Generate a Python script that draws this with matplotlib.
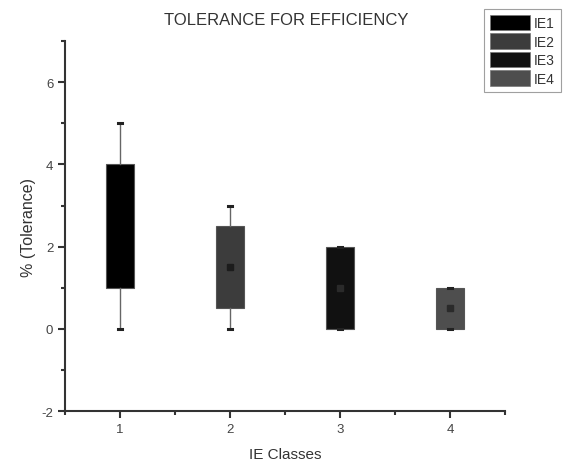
import matplotlib
matplotlib.use("Agg")
import matplotlib.pyplot as plt
from matplotlib.patches import Patch
from matplotlib.ticker import MultipleLocator

plt.rcParams['font.family'] = ['Liberation Sans', 'DejaVu Sans']
plt.rcParams['axes.unicode_minus'] = False

# data
classes = [1, 2, 3, 4]
labels = ['IE1', 'IE2', 'IE3', 'IE4']
wlo = [0, 0, 0, 0]
q1 = [1, 0.5, 0, 0]
med = [2.5, 1.5, 1, 0.5]
q3 = [4, 2.5, 2, 1]
whi = [5, 3, 2, 1]
means = [2.5, 1.5, 1, 0.5]
colors = ['#000000', '#3c3c3c', '#111111', '#4e4e4e']
mean_colors = ['#000000', '#1c1c1c', '#2a2a2a', '#2a2a2a']

fig = plt.figure(figsize=(5.66, 4.64), dpi=100)
ax = fig.add_axes([0.115, 0.112, 0.777, 0.797])

stats = []
for i in range(len(classes)):
    stats.append(dict(whislo=wlo[i], q1=q1[i], med=med[i], q3=q3[i],
                      whishi=whi[i], fliers=[], label=labels[i]))

bp = ax.bxp(stats, positions=classes, widths=0.25, patch_artist=True,
            showfliers=False, capwidths=0.035,
            boxprops=dict(linewidth=0.8, edgecolor='#555555'),
            whiskerprops=dict(linewidth=1.0, color='#666666'),
            capprops=dict(linewidth=2.2, color='#222222'),
            medianprops=dict(linewidth=0))
for patch, c in zip(bp['boxes'], colors):
    patch.set_facecolor(c)

for x, m, mc in zip(classes, means, mean_colors):
    ax.plot(x, m, marker='s', markersize=4, color=mc, linestyle='none')

ax.set_xlim(0.5, 4.5)
ax.set_ylim(-2, 7)
ax.set_xticks(classes)
ax.set_xticklabels([str(c) for c in classes])
ax.set_yticks([-2, 0, 2, 4, 6])
ax.xaxis.set_minor_locator(MultipleLocator(0.5))
ax.yaxis.set_minor_locator(MultipleLocator(1))

for side in ['top', 'right']:
    ax.spines[side].set_visible(False)
for side in ['left', 'bottom']:
    ax.spines[side].set_linewidth(1.5)
    ax.spines[side].set_color('#333333')

ax.tick_params(which='major', direction='out', length=5, width=1.5,
               color='#333333', labelsize=9.5, labelcolor='#444444')
ax.tick_params(which='minor', direction='out', length=3, width=1.5,
               color='#333333')

ax.set_xlabel('IE Classes', fontsize=11, color='#333333', labelpad=9)
ax.set_ylabel('% (Tolerance)', fontsize=11.5, color='#333333', labelpad=4)
fig.text(0.505, 0.955, 'TOLERANCE FOR EFFICIENCY', ha='center', va='center',
         fontsize=12, color='#333333')

handles = [Patch(facecolor=c, edgecolor='#777777', linewidth=0.5) for c in colors]
leg = fig.legend(handles, labels, loc='upper left',
                 bbox_to_anchor=(484 / 566, 1 - 10 / 464),
                 fontsize=10, frameon=True, fancybox=False,
                 handlelength=2.9, handleheight=1.35, handletextpad=0.3,
                 labelspacing=0.22, borderpad=0.4, borderaxespad=0)
leg.get_frame().set_edgecolor('#888888')
leg.get_frame().set_linewidth(0.8)
for t in leg.get_texts():
    t.set_color('#333333')

fig.savefig('out.png', dpi=100)
